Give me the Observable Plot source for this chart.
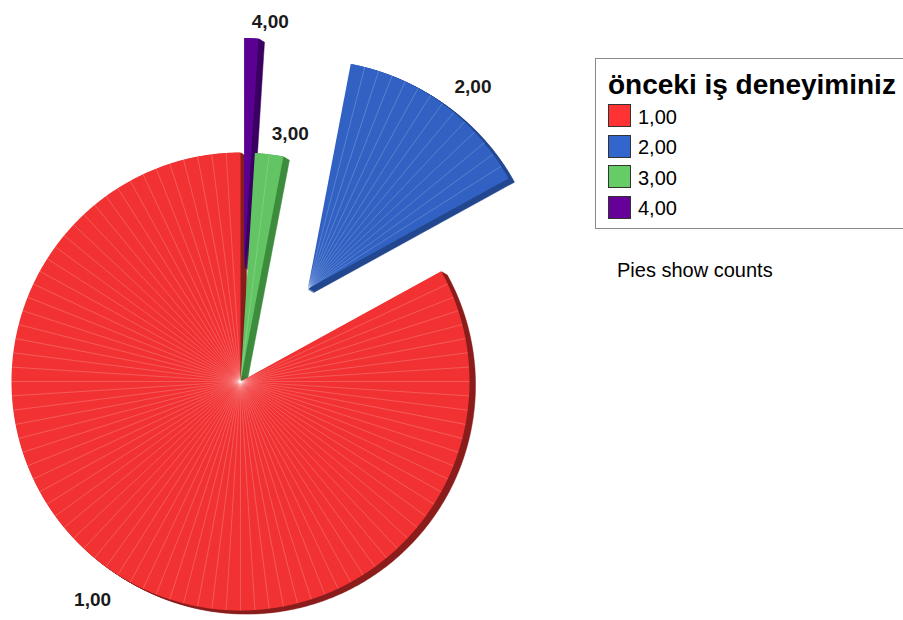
<!DOCTYPE html>
<html><head><meta charset="utf-8">
<script src="https://cdn.jsdelivr.net/npm/d3@7"></script>
<script src="https://cdn.jsdelivr.net/npm/@observablehq/plot@0.6"></script>
<style>
body{margin:0;background:#fff;}
#wrap{position:relative;width:903px;height:620px;overflow:hidden;font-family:"Liberation Sans",Arial,sans-serif;color:#000;}
#chart{position:absolute;left:0;top:0;}
#legend{position:absolute;left:595px;top:58px;width:330px;height:171px;border:1px solid #8a8a8a;box-sizing:border-box;background:#fff;}
#legend .title{position:absolute;left:12px;top:12px;font-size:28px;line-height:28px;font-weight:bold;white-space:nowrap;}
#legend .sw{position:absolute;left:12px;width:23px;height:23px;box-sizing:border-box;border:1px solid #333;}
#legend .lab{position:absolute;left:42px;font-size:20px;line-height:20px;white-space:nowrap;}
#caption{position:absolute;left:617px;top:260px;font-size:20px;line-height:20px;white-space:nowrap;}
</style>
</head><body>
<div id="wrap"><div id="chart"></div><div id="legend"></div><div id="caption"></div></div>
<script>
// ---- data ----
const categories = ["1,00", "2,00", "3,00", "4,00"];
const counts = [83, 14, 2, 1];
const legendTitle = "önceki iş deneyiminiz";
const captionText = "Pies show counts";

// ---- styles / layout ----
const faceColors = {"1,00": "#f23232", "2,00": "#3162c3", "3,00": "#62c462", "4,00": "#5c0094"};
const sideColors = {"1,00": "#8a1c1c", "2,00": "#22478f", "3,00": "#3d8b3d", "4,00": "#3a0061"};
const swatchColors = {"1,00": "#ff3333", "2,00": "#3366cc", "3,00": "#66cc66", "4,00": "#660099"};
const explode = {"1,00": 0, "2,00": 0.5, "3,00": 0, "4,00": 0.5};
const labelRadius = {"1,00": 1.11, "2,00": 1.09, "3,00": 1.09, "4,00": 1.07};
const CX = 240, CY = 381, R = 229, W = 903, H = 620;

const total = d3.sum(counts);
const slices = [];
let cum = 0;
categories.forEach((cat, i) => {
  const a0 = -2 * Math.PI * cum / total;
  cum += counts[i];
  const a1 = -2 * Math.PI * cum / total;
  const am = (a0 + a1) / 2;
  const e = explode[cat];
  const ox = e * Math.sin(am), oy = e * Math.cos(am);
  const poly = [{x: ox, y: oy}];
  const steps = Math.max(4, Math.ceil(Math.abs(a1 - a0) / (Math.PI / 360)));
  for (let s = 0; s <= steps; s++) {
    const a = a0 + (a1 - a0) * s / steps;
    poly.push({x: ox + Math.sin(a), y: oy + Math.cos(a)});
  }
  poly.push({x: ox, y: oy});
  const spokes = [];
  for (let k = 1; k < counts[i]; k++) {
    const a = a0 + (a1 - a0) * k / counts[i];
    spokes.push({x1: ox, y1: oy, x2: ox + Math.sin(a), y2: oy + Math.cos(a)});
  }
  const lr = labelRadius[cat];
  const label = {cat, x: ox + lr * Math.sin(am), y: oy + lr * Math.cos(am), right: Math.sin(am) >= 0};
  slices.push({cat, poly, spokes, label});
});

const marks = [];
// extrusion (3D side)
for (const s of slices) {
  for (let k = 1; k <= 6; k++) {
    marks.push(Plot.line(s.poly, {x: "x", y: "y", fill: sideColors[s.cat], stroke: sideColors[s.cat], strokeWidth: 0.5, dx: k, dy: k * 0.6}));
  }
}
// faces
for (const s of slices) {
  marks.push(Plot.line(s.poly, {x: "x", y: "y", fill: faceColors[s.cat], stroke: "none"}));
}
// spokes
for (const s of slices) {
  marks.push(Plot.link(s.spokes, {x1: "x1", y1: "y1", x2: "x2", y2: "y2", stroke: "#ffffff", strokeOpacity: 0.28, strokeWidth: 0.7}));
}
const labels = slices.map(s => s.label);
const font = {fontSize: 19, fontWeight: "bold", fill: "#1a1a1a", fontFamily: "Liberation Sans, Arial, sans-serif"};
marks.push(Plot.text(labels.filter(d => d.right), {x: "x", y: "y", text: "cat", textAnchor: "start", ...font}));
marks.push(Plot.text(labels.filter(d => !d.right), {x: "x", y: "y", text: "cat", textAnchor: "end", ...font}));

const chart = Plot.plot({
  width: W, height: H, margin: 0,
  x: {domain: [-CX / R, (W - CX) / R], range: [0, W], axis: null},
  y: {domain: [-(H - CY) / R, CY / R], range: [H, 0], axis: null},
  style: {background: "transparent", overflow: "visible"},
  marks
});
document.getElementById("chart").appendChild(chart);

// legend
const lg = document.getElementById("legend");
const t = document.createElement("div");
t.className = "title"; t.textContent = legendTitle; lg.appendChild(t);
categories.forEach((cat, i) => {
  const top = 45 + i * 30.5;
  const sw = document.createElement("div");
  sw.className = "sw"; sw.style.top = top + "px"; sw.style.background = swatchColors[cat];
  lg.appendChild(sw);
  const lb = document.createElement("div");
  lb.className = "lab"; lb.style.top = (top + 2.5) + "px"; lb.textContent = cat;
  lg.appendChild(lb);
});
document.getElementById("caption").textContent = captionText;
</script>
</body></html>
